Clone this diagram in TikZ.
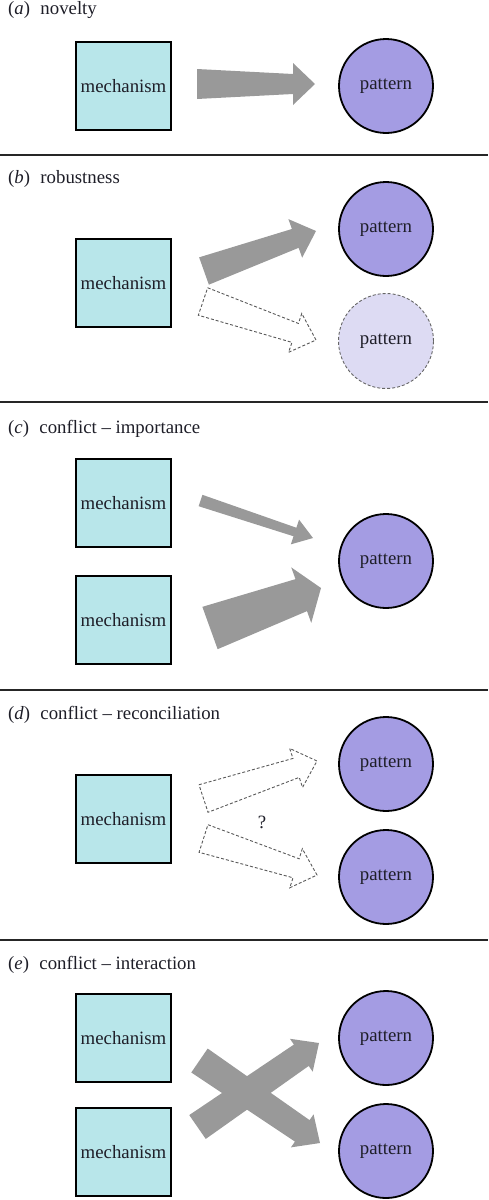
\documentclass[tikz,border=0pt]{standalone}
\usepackage{fontspec}
\setmainfont{Liberation Serif}
\usetikzlibrary{calc}

\definecolor{mechfill}{HTML}{B8E6EA}
\definecolor{patfill}{HTML}{A49CE3}
\definecolor{ghostfill}{HTML}{DDDBF3}
\definecolor{arrowgrey}{HTML}{999999}
\definecolor{inkdark}{HTML}{1E1E28}

% tapered block arrow: [style]{tail}{tip}{tail half width}{neck half width}{head half width}{head length}
\newcommand{\fatarrow}[7][]{%
  \coordinate (neck) at ($(#3)!#7!(#2)$);
  \path[#1] ($(#2)!#4!90:(#3)$) -- ($(neck)!#5!90:(#3)$) -- ($(neck)!#6!90:(#3)$) -- (#3)
    -- ($(neck)!#6!-90:(#3)$) -- ($(neck)!#5!-90:(#3)$) -- ($(#2)!#4!-90:(#3)$) -- cycle;}

\begin{document}
\begin{tikzpicture}[x=1pt,y=-1pt,font=\fontsize{18.8}{22}\selectfont,
  mech/.style={draw=black,line width=2pt,fill=mechfill,minimum width=95pt,minimum height=88pt,inner sep=0pt,text=inkdark},
  pat/.style={circle,draw=black,line width=1.8pt,fill=patfill,minimum size=94pt,inner sep=0pt,text=inkdark},
  ghost/.style={circle,draw=black!60,dash pattern=on 3pt off 2pt,line width=0.9pt,fill=ghostfill,minimum size=95pt,inner sep=0pt,text=inkdark},
  bigarrow/.style={fill=arrowgrey},
  openarrow/.style={draw=black!65,dash pattern=on 3pt off 2pt,line width=0.9pt,fill=white},
  title/.style={anchor=base west,inner sep=0pt,text=inkdark},
  rule/.style={line width=2.5pt,draw=black!85}]
\useasboundingbox (0,0) rectangle (488,1200);
\foreach \y in {155,402,690,940}
  \draw[rule] (0,\y) -- (488,\y);

% (a)
\node[title] (ta) at (8,14) {(\textit{a})\hskip0.55em novelty};
\node[mech] (ma) at (123.5,86) {mechanism};
\node[pat] (pa) at (386,86) {pattern};
\coordinate (a-tail) at (197,84);
\coordinate (a-tip) at (315,84);
\fatarrow[bigarrow]{a-tail}{a-tip}{15pt}{10pt}{21pt}{22pt}

% (b)
\node[title] (tb) at (8,183.6) {(\textit{b})\hskip0.55em robustness};
\node[mech] (mb) at (123.5,283) {mechanism};
\node[pat] (pb1) at (386,229) {pattern};
\node[ghost] (pb2) at (386,341) {pattern};
\coordinate (b1-tail) at (204,271);
\coordinate (b1-tip) at (316,231);
\coordinate (b2-tail) at (203,301.5);
\coordinate (b2-tip) at (316,340);
\fatarrow[bigarrow]{b1-tail}{b1-tip}{14.5pt}{10pt}{20.5pt}{22pt}
\fatarrow[openarrow]{b2-tail}{b2-tip}{14.5pt}{10pt}{20.5pt}{22pt}

% (c)
\node[title] (tc) at (8,433.6) {(\textit{c})\hskip0.55em conflict -- importance};
\node[mech] (mc1) at (123.5,503) {mechanism};
\node[mech] (mc2) at (123.5,620) {mechanism};
\node[pat] (pc) at (386,561) {pattern};
\coordinate (c1-tail) at (200.5,500.5);
\coordinate (c1-tip) at (313,538);
\coordinate (c2-tail) at (210,628);
\coordinate (c2-tip) at (321,588);
\fatarrow[bigarrow]{c1-tail}{c1-tip}{6pt}{4.5pt}{13pt}{19pt}
\fatarrow[bigarrow]{c2-tail}{c2-tip}{22.5pt}{17pt}{29.5pt}{21pt}

% (d)
\node[title] (td) at (8,719.6) {(\textit{d})\hskip0.55em conflict -- reconciliation};
\node[mech] (md) at (123.5,819) {mechanism};
\node[pat] (pd1) at (386,764) {pattern};
\node[pat] (pd2) at (386,877) {pattern};
\coordinate (d1-tail) at (203.5,798.5);
\coordinate (d1-tip) at (317,761);
\coordinate (d2-tail) at (203.5,838.5);
\coordinate (d2-tip) at (317,875);
\fatarrow[openarrow]{d1-tail}{d1-tip}{14.5pt}{10pt}{20.5pt}{22pt}
\fatarrow[openarrow]{d2-tail}{d2-tip}{14.5pt}{10pt}{20.5pt}{22pt}
\node[text=inkdark] (qd) at (262,822) {?};

% (e)
\node[title] (te) at (8,969.6) {(\textit{e})\hskip0.55em conflict -- interaction};
\node[mech] (me1) at (123.5,1038) {mechanism};
\node[mech] (me2) at (123.5,1152) {mechanism};
\node[pat] (pe1) at (386,1038) {pattern};
\node[pat] (pe2) at (386,1151) {pattern};
\coordinate (e1-tail) at (199.5,1060.5);
\coordinate (e1-tip) at (320,1143);
\coordinate (e2-tail) at (197.5,1127);
\coordinate (e2-tip) at (319,1043);
\fatarrow[bigarrow]{e1-tail}{e1-tip}{14.5pt}{13pt}{20pt}{21.5pt}
\fatarrow[bigarrow]{e2-tail}{e2-tip}{14.5pt}{13pt}{20pt}{21.5pt}
\end{tikzpicture}
\end{document}
